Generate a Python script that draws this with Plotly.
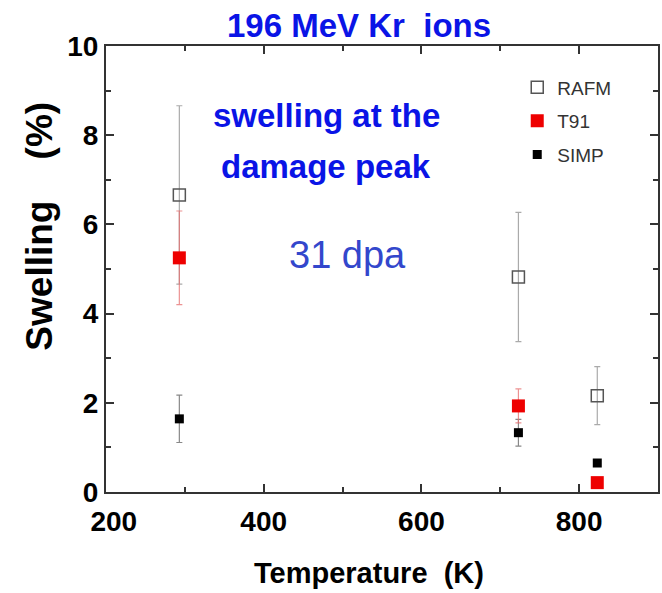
import plotly.graph_objects as go

# ---- data ----
rafm_T = [293, 723, 823]
rafm_s = [6.66, 4.82, 2.16]
rafm_err = [2.0, 1.45, 0.65]

t91_T = [293, 723, 823]
t91_s = [5.25, 1.93, 0.21]
t91_err = [1.05, 0.38, 0.0]

simp_T = [293, 723, 823]
simp_s = [1.64, 1.33, 0.65]
simp_err = [0.53, 0.30, 0.0]

x_ticks = [200, 400, 600, 800]
x_ticktext = ["\u2007200", "400", "600", "800"]
y_ticks = [0, 2, 4, 6, 8, 10]

FONT = "Liberation Sans, Arial, sans-serif"
BLUE = "#0a14e6"

fig = go.Figure()

fig.add_trace(go.Scatter(
    x=rafm_T, y=rafm_s, mode="markers", name="RAFM", legendgroup="a", legendrank=1,
    marker=dict(symbol="square-open", size=12, color="#555555", line=dict(width=1.5)),
    error_y=dict(type="data", array=rafm_err, color="#aaaaaa", thickness=1.2, width=3),
))
fig.add_trace(go.Scatter(
    x=simp_T, y=simp_s, mode="markers", name="SIMP", legendgroup="c", legendrank=3,
    marker=dict(symbol="square", size=9, color="#000000"),
    error_y=dict(type="data", array=simp_err, color="#888888", thickness=1.2, width=3),
))
fig.add_trace(go.Scatter(
    x=t91_T, y=t91_s, mode="markers", name="T91", legendgroup="b", legendrank=2,
    marker=dict(symbol="square", size=13, color="#ee0000"),
    error_y=dict(type="data", array=t91_err, color="rgba(230,110,110,0.75)", thickness=1.2, width=3),
))

axis_common = dict(
    showline=True, linecolor="#333333", linewidth=2, mirror="ticks",
    ticks="inside", ticklen=8, tickwidth=2, tickcolor="#333333",
    showgrid=False, zeroline=False,
    tickfont=dict(family=FONT, size=28, color="#000000", weight="bold"),
)

fig.update_layout(
    width=662, height=593, autosize=False,
    margin=dict(l=106, r=2, t=46, b=101),
    paper_bgcolor="white", plot_bgcolor="white",
    xaxis=dict(range=[200, 900], tickvals=x_ticks, ticktext=x_ticktext,
               ticklabelstandoff=3,
               minor=dict(ticks="inside", ticklen=5, tickwidth=2, tickcolor="#333333", dtick=100, tick0=0),
               **axis_common),
    yaxis=dict(range=[0, 10], tickvals=y_ticks,
               minor=dict(ticks="inside", ticklen=5, tickwidth=2, tickcolor="#333333", dtick=1, tick0=0),
               **axis_common),
    legend=dict(x=0.745, y=0.95, xanchor="left", yanchor="top",
                bgcolor="rgba(0,0,0,0)", tracegroupgap=6,
                font=dict(family=FONT, size=19, color="#333333")),
    showlegend=True,
)

annotations = [
    dict(text="196 MeV Kr  ions", xref="paper", yref="paper", x=0.458, y=1, yshift=21,
         xanchor="center", yanchor="middle", showarrow=False,
         font=dict(family=FONT, size=33, color=BLUE, weight="bold")),
    dict(text="swelling at the", xref="x", yref="y", x=479, y=8.45,
         xanchor="center", yanchor="middle", showarrow=False,
         font=dict(family=FONT, size=33, color=BLUE, weight="bold")),
    dict(text="damage peak", xref="x", yref="y", x=479, y=7.29,
         xanchor="center", yanchor="middle", showarrow=False,
         font=dict(family=FONT, size=33, color=BLUE, weight="bold")),
    dict(text="31 dpa", xref="x", yref="y", x=506, y=5.31,
         xanchor="center", yanchor="middle", showarrow=False,
         font=dict(family=FONT, size=38, color="#3347cc")),
    dict(text="Swelling    (%)", xref="paper", yref="paper", x=0, xshift=-66, y=0.595,
         xanchor="center", yanchor="middle", textangle=-90, showarrow=False,
         font=dict(family=FONT, size=37, color="#000000", weight="bold")),
    dict(text="Temperature  (K)", xref="paper", yref="paper", x=0.4765, y=0, yshift=-81,
         xanchor="center", yanchor="middle", showarrow=False,
         font=dict(family=FONT, size=29, color="#000000", weight="bold")),
]
fig.update_layout(annotations=annotations)

fig.write_html("out.html")
